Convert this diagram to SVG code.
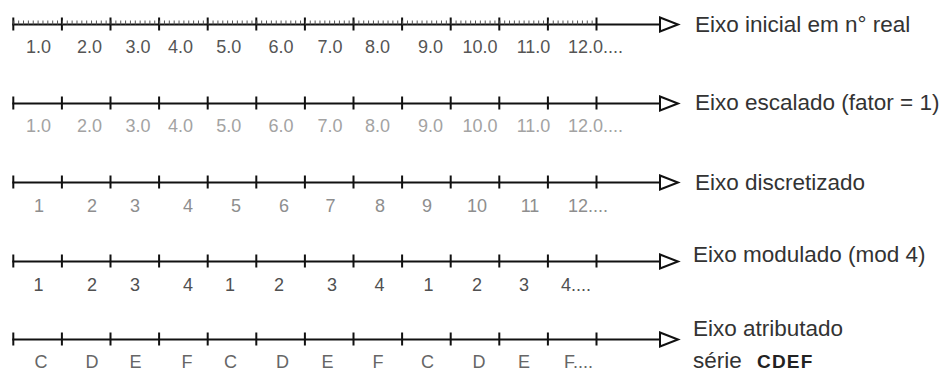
<svg xmlns="http://www.w3.org/2000/svg" xmlns:xlink="http://www.w3.org/1999/xlink" width="945" height="374" viewBox="0 0 945 374">
<style>
.ax{stroke:#111;stroke-width:2;fill:none}
.tk{stroke:#111;stroke-width:13;stroke-dasharray:2 46.6;fill:none}
.mn{stroke:#555;stroke-width:4;stroke-dasharray:1 3.86;fill:none}
.hd{fill:#fff;stroke:#111;stroke-width:2}
.n{font-family:"Liberation Sans",Arial,sans-serif;font-size:18px;text-anchor:middle}
.s{text-anchor:start}
.lb{font-family:"Liberation Sans",Arial,sans-serif;font-size:22.5px;fill:#333}
.bd{font-weight:bold;font-size:19px;letter-spacing:1.2px;fill:#222}
</style>
<defs>
<g id="axis"><path class="ax" d="M12.3 0H661"/><path class="tk" d="M12.3 -0.5H598"/><polygon class="hd" points="660,-7 678,0 660,7"/></g>
</defs>
<rect width="945" height="374" fill="#fff"/>
<g id="connectors">
<use xlink:href="#axis" href="#axis" x="0" y="24.5"/>
<path class="mn" d="M13.3 22.5H596.5"/>
<use xlink:href="#axis" href="#axis" x="0" y="103.5"/>
<use xlink:href="#axis" href="#axis" x="0" y="182.5"/>
<use xlink:href="#axis" href="#axis" x="0" y="261.5"/>
<use xlink:href="#axis" href="#axis" x="0" y="339.5"/>
</g>
<g id="eixo-inicial" class="n" fill="#555">
<text x="38.5" y="53">1.0</text><text x="89.5" y="53">2.0</text><text x="138" y="53">3.0</text><text x="180.5" y="53">4.0</text><text x="228.7" y="53">5.0</text><text x="281" y="53">6.0</text><text x="330" y="53">7.0</text><text x="377.5" y="53">8.0</text><text x="430.5" y="53">9.0</text><text x="480" y="53">10.0</text><text x="533.5" y="53">11.0</text><text class="s" x="568" y="53">12.0....</text>
<text class="lb s" x="695" y="31.5">Eixo inicial em n° real</text>
</g>
<g id="eixo-escalado" class="n" fill="#a3a3a3">
<text x="38.5" y="132">1.0</text><text x="89.5" y="132">2.0</text><text x="138" y="132">3.0</text><text x="180.5" y="132">4.0</text><text x="228.7" y="132">5.0</text><text x="281" y="132">6.0</text><text x="330" y="132">7.0</text><text x="377.5" y="132">8.0</text><text x="430.5" y="132">9.0</text><text x="480" y="132">10.0</text><text x="533.5" y="132">11.0</text><text class="s" x="568" y="132">12.0....</text>
<text class="lb s" x="695" y="110">Eixo escalado (fator = 1)</text>
</g>
<g id="eixo-discretizado" class="n" fill="#8e8e8e">
<text x="39" y="211.5">1</text><text x="92" y="211.5">2</text><text x="135" y="211.5">3</text><text x="188" y="211.5">4</text><text x="236" y="211.5">5</text><text x="284" y="211.5">6</text><text x="330.5" y="211.5">7</text><text x="380" y="211.5">8</text><text x="427" y="211.5">9</text><text x="477" y="211.5">10</text><text x="530" y="211.5">11</text><text class="s" x="568" y="211.5">12....</text>
<text class="lb s" x="695" y="190">Eixo discretizado</text>
</g>
<g id="eixo-modulado" class="n" fill="#505050">
<text x="38.5" y="290.5">1</text><text x="92" y="290.5">2</text><text x="135" y="290.5">3</text><text x="188" y="290.5">4</text><text x="230" y="290.5">1</text><text x="279" y="290.5">2</text><text x="332" y="290.5">3</text><text x="379.5" y="290.5">4</text><text x="428.5" y="290.5">1</text><text x="477" y="290.5">2</text><text x="524" y="290.5">3</text><text class="s" x="561" y="290.5">4....</text>
<text class="lb s" x="693" y="262">Eixo modulado (mod 4)</text>
</g>
<g id="eixo-atributado" class="n" fill="#666">
<text x="41" y="368">C</text><text x="92" y="368">D</text><text x="135.5" y="368">E</text><text x="187" y="368">F</text><text x="230.5" y="368">C</text><text x="282.5" y="368">D</text><text x="327.5" y="368">E</text><text x="378" y="368">F</text><text x="427.5" y="368">C</text><text x="479" y="368">D</text><text x="524" y="368">E</text><text class="s" x="564" y="368">F....</text>
<text class="lb s" x="693" y="336">Eixo atributado</text>
<text class="lb s" x="693" y="368">série <tspan class="bd" x="757">CDEF</tspan></text>
</g>
</svg>
